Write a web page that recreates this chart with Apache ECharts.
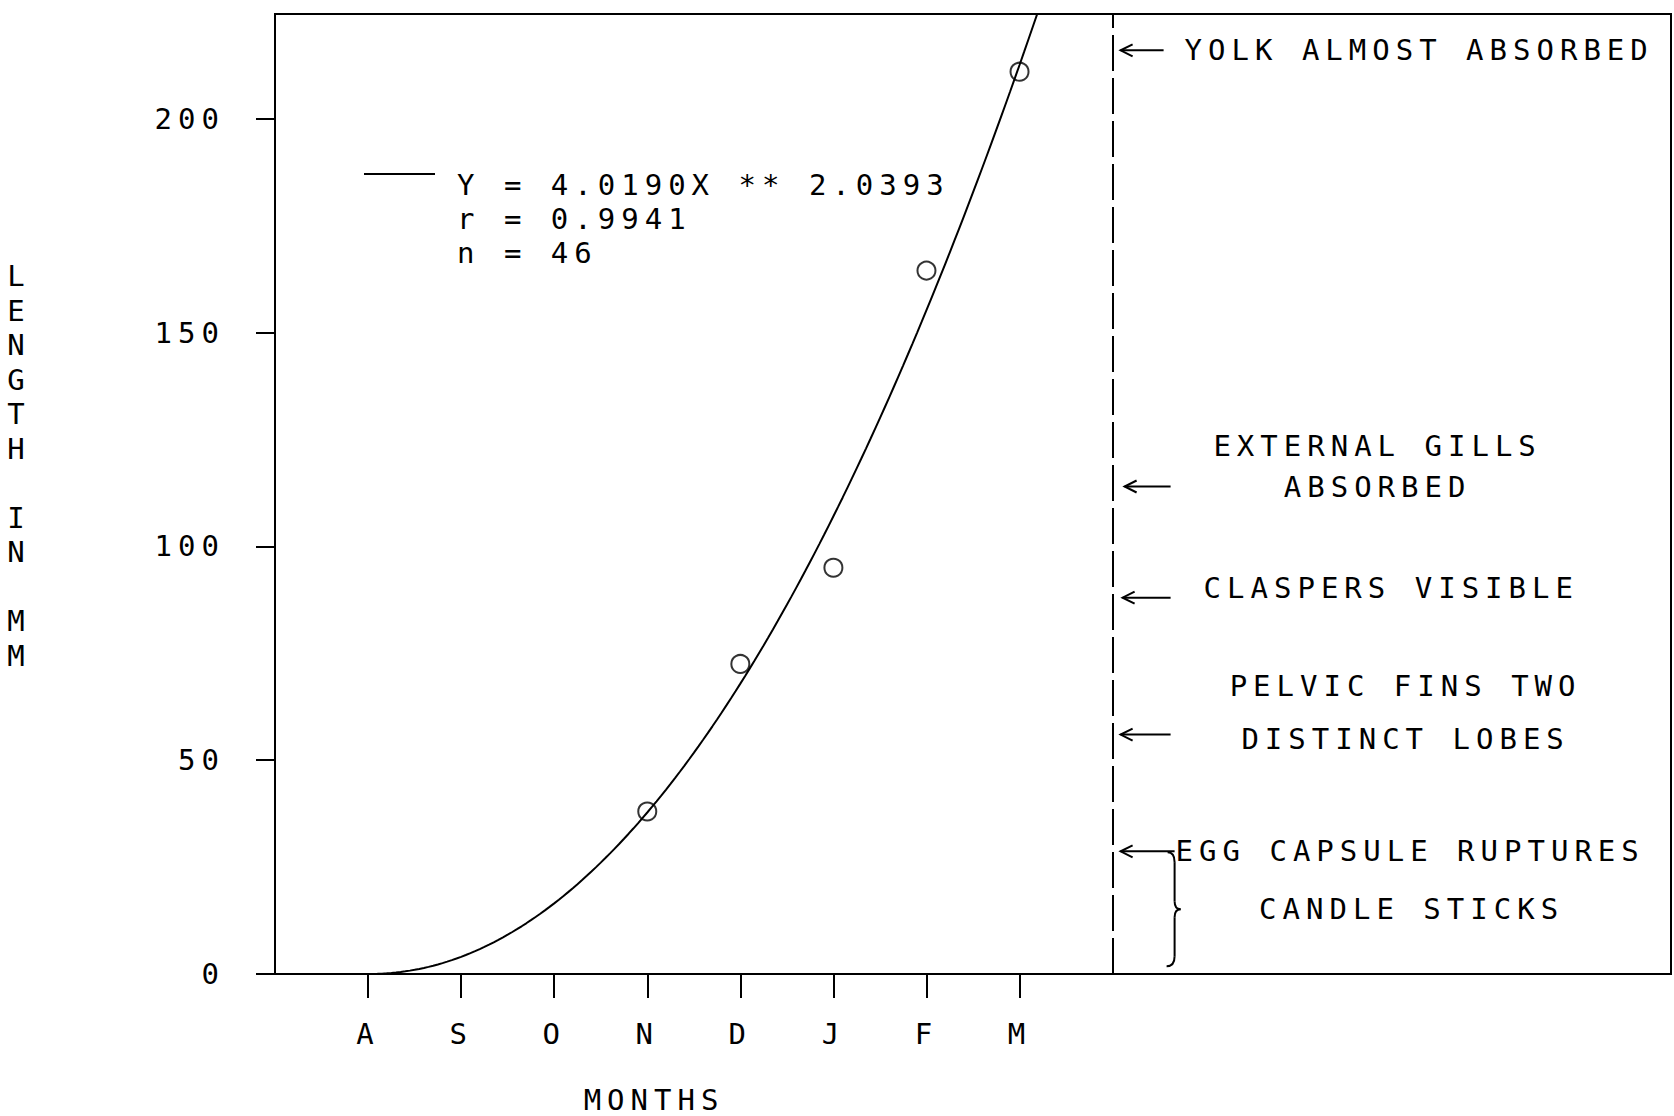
<!DOCTYPE html>
<html>
<head>
<meta charset="utf-8">
<script src="https://cdn.jsdelivr.net/npm/echarts@6/dist/echarts.min.js"></script>
<style>
  html, body { margin: 0; padding: 0; background: #fff; }
  #chart { width: 1674px; height: 1116px; }
  /* plotter-style lettering: wide, evenly spaced characters */
  #chart text { letter-spacing: 6px; }
</style>
</head>
<body>
<div id="chart"></div>
<script>
// Month labels along the x axis (index 0 = August)
const months = ['A', 'S', 'O', 'N', 'D', 'J', 'F', 'M'];
// Mean length (mm) of the monthly samples
const sampleMonth = [3, 4, 5, 6, 7];
const sampleLength = [38, 72.5, 95, 164.5, 211];
// Fitted power curve Y = a * X ** b and its statistics
const fitCoef = 4.0190;
const fitExp = 2.0393;
const fitR = 0.9941;
const fitN = 46;
// Y axis tick values
const yTicks = [0, 50, 100, 150, 200];
// Developmental stages, with the length (mm) each arrow points at
const stageLabels = ['YOLK ALMOST ABSORBED', 'EXTERNAL GILLS\nABSORBED', 'CLASPERS VISIBLE', 'PELVIC FINS TWO\nDISTINCT LOBES', 'EGG CAPSULE RUPTURES'];
const stageLengths = [216, 114, 88, 56, 28.7];
const candleLabel = 'CANDLE STICKS';
const candleRange = [28.5, 1.8];
const stageDivider = 8;

const FONT = 'DejaVu Sans Mono';
const FS = 29;
const INK = '#000';

const fitLabel = 'Y = ' + fitCoef.toFixed(4) + 'X ** ' + fitExp.toFixed(4);

// curve sampled along the month axis from the fitted equation
const curve = [];
for (let i = 0; i <= 150; i++) {
  const x = i * 0.05;
  curve.push([x, fitCoef * Math.pow(x, fitExp)]);
}
const samples = sampleMonth.map((m, i) => [m, sampleLength[i]]);

const chart = echarts.init(document.getElementById('chart'), null, { renderer: 'svg', width: 1674, height: 1116 });

chart.setOption({
  animation: false,
  backgroundColor: '#fff',
  textStyle: { fontFamily: FONT, color: INK },
  grid: {
    left: 275, right: 3, top: 14, bottom: 142,
    show: true, borderColor: INK, borderWidth: 2, backgroundColor: 'transparent',
    containLabel: false, outerBoundsMode: 'none'
  },
  xAxis: {
    type: 'value', min: -1, max: 14, interval: 1,
    axisLine: { show: true, onZero: false, lineStyle: { color: INK, width: 2 } },
    axisTick: { show: true, inside: false, length: 24, lineStyle: { color: INK, width: 2 }, customValues: months.map((m, i) => i) },
    axisLabel: {
      customValues: months.map((m, i) => i),
      formatter: v => months[v] || '',
      margin: 45, fontSize: FS, fontFamily: FONT, color: INK
    },
    splitLine: { show: false }
  },
  yAxis: {
    type: 'value', min: 0, max: 224.5, interval: 50,
    axisLine: { show: true, onZero: false, lineStyle: { color: INK, width: 2 } },
    axisTick: { show: true, inside: false, length: 19, lineStyle: { color: INK, width: 2 }, customValues: yTicks },
    axisLabel: { customValues: yTicks, margin: 50, fontSize: FS, fontFamily: FONT, color: INK },
    splitLine: { show: false }
  },
  series: [
    {
      name: fitLabel,
      type: 'line',
      data: curve,
      symbol: 'none',
      smooth: false,
      clip: true,
      lineStyle: { color: INK, width: 2 },
      markLine: {
        silent: true,
        symbol: ['none', 'none'],
        label: { show: false },
        lineStyle: { color: INK, width: 2, type: [36, 7] },
        data: [{ xAxis: stageDivider }]
      }
    },
    {
      name: 'samples',
      type: 'scatter',
      data: samples,
      symbol: 'circle',
      symbolSize: 18,
      itemStyle: { color: 'rgba(0,0,0,0)', borderColor: INK, borderWidth: 2 }
    }
  ]
});

// ---- annotations placed through the grid's coordinate system ----
const px = (x, y) => chart.convertToPixel({ gridIndex: 0 }, [x, y]);
const divX = px(stageDivider, 0)[0];
const stroke = { stroke: INK, lineWidth: 2, fill: null };
const txt = (x, y, text, align, lineHeight) => ({
  type: 'text', x: x, y: y, silent: true,
  style: { text: text, fill: INK, font: FS + 'px "' + FONT + '"', align: align, verticalAlign: 'middle', lineHeight: lineHeight || FS }
});
const seg = (x1, y1, x2, y2) => ({ type: 'line', silent: true, shape: { x1: x1, y1: y1, x2: x2, y2: y2 }, style: stroke });
const curl = (x1, y1, cx, cy, x2, y2) => ({ type: 'bezierCurve', silent: true, shape: { x1: x1, y1: y1, cpx1: cx, cpy1: cy, x2: x2, y2: y2 }, style: stroke });
const arrow = (y, x0, x1) => ({
  type: 'group', silent: true,
  children: [
    seg(x0, y, x1, y),
    { type: 'polyline', silent: true, shape: { points: [[x0 + 12, y - 6], [x0, y], [x0 + 12, y + 6]] }, style: stroke }
  ]
});

const ay = stageLengths.map(v => px(0, v)[1]);
const braceTop = px(0, candleRange[0])[1];
const braceBot = px(0, candleRange[1])[1];
const braceMid = (braceTop + braceBot) / 2;
const bx = divX + 60;
const brace = {
  type: 'group', silent: true,
  children: [
    curl(bx - 5, braceTop, bx + 2, braceTop, bx + 2, braceTop + 10),
    seg(bx + 2, braceTop + 10, bx + 2, braceMid - 8),
    curl(bx + 2, braceMid - 8, bx + 2, braceMid, bx + 8, braceMid),
    curl(bx + 8, braceMid, bx + 2, braceMid, bx + 2, braceMid + 8),
    seg(bx + 2, braceMid + 8, bx + 2, braceBot - 10),
    curl(bx + 2, braceBot - 10, bx + 2, braceBot, bx - 6, braceBot)
  ]
};

const graphics = [
  // legend of the fitted curve
  seg(364, 174, 435, 174),
  txt(457, 219, fitLabel + '\nr = ' + fitR.toFixed(4) + '\nn = ' + fitN, 'left', 34),
  // axis titles
  txt(654, 1100, 'MONTHS', 'center'),
  txt(19, 466, 'L\nE\nN\nG\nT\nH\n\nI\nN\n\nM\nM', 'center', 34.5),
  // stage arrows
  arrow(ay[0], divX + 8, divX + 51),
  arrow(ay[1], divX + 12, divX + 58),
  arrow(ay[2], divX + 10, divX + 58),
  arrow(ay[3], divX + 8, divX + 58),
  arrow(ay[4], divX + 8, divX + 62),
  // stage texts
  txt(divX + 72, ay[0], stageLabels[0], 'left'),
  txt(divX + 265, ay[1] - 20, stageLabels[1], 'center', 41),
  txt(divX + 91, ay[2] - 10, stageLabels[2], 'left'),
  txt(divX + 293, ay[3] - 22, stageLabels[3], 'center', 53),
  txt(divX + 63, ay[4], stageLabels[4], 'left'),
  txt(divX + 299, braceMid, candleLabel, 'center'),
  brace
];

chart.setOption({ graphic: graphics });
</script>
</body>
</html>
